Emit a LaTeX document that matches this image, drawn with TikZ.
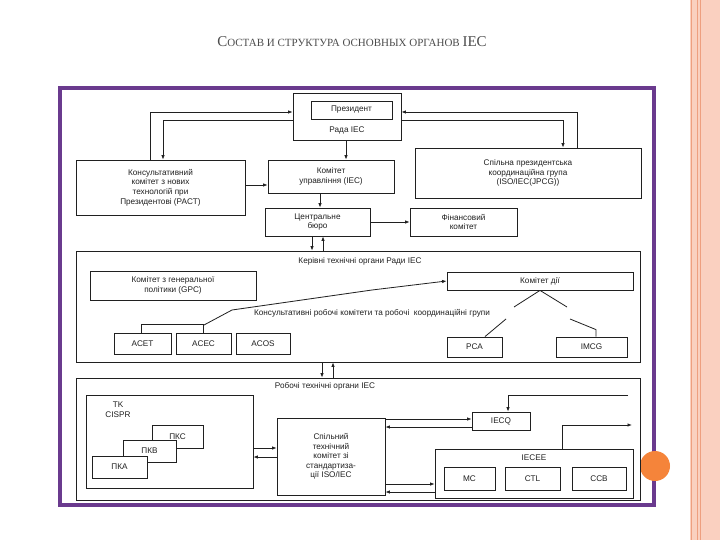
\documentclass[tikz,border=0pt]{standalone}
\usepackage{fontspec}
\setmainfont{Liberation Sans}
\newfontfamily\titlefont{Liberation Serif}
\usetikzlibrary{arrows.meta,calc}
\definecolor{frame}{HTML}{6A3A8E}
\definecolor{peach}{HTML}{FAD0C0}
\definecolor{peachline}{HTML}{EE9F80}
\definecolor{orng}{HTML}{F5843A}
\definecolor{ink}{HTML}{202020}
\tikzset{
  box/.style={draw=ink,line width=0.8pt,fill=white,inner sep=1pt,align=center,font=\fontsize{8.2}{9.6}\selectfont,text=ink},
  arr/.style={draw=ink,line width=0.8pt,-{Latex[length=4.5pt,width=3.5pt]}},
  ln/.style={draw=ink,line width=0.8pt},
  lbl/.style={font=\fontsize{8.2}{9.6}\selectfont,text=ink,inner sep=1pt}
}
\newcommand\bx[6]{\node[box,minimum width={(#4-#2)*1pt},minimum height={(#5-#3)*1pt}] (#1) at ({(#2+#4)/2},{(#3+#5)/2}) {#6};}
\begin{document}
\begin{tikzpicture}[x=1pt,y=-1pt]
\useasboundingbox (0,0) rectangle (720,540);
\fill[white] (0,0) rectangle (720,540);
% right decoration
\fill[peach] (690,0) rectangle (720,540);
\draw[peachline,line width=0.8pt] (691,0) -- (691,540) (697,0) -- (697,540) (700.5,0) -- (700.5,540);
% title
\node[text=black!70,font=\titlefont] (title) at (352,42)
 {{\fontsize{15}{15}\selectfont С}{\fontsize{11}{11}\selectfont ОСТАВ И СТРУКТУРА ОСНОВНЫХ ОРГАНОВ }{\fontsize{15}{15}\selectfont IEC}};
% frame
\draw[frame,line width=4pt] (60,88) rectangle (654,505);
\fill[orng] (655,466) circle (15);
% top boxes
\bx{rada}{293}{93}{401}{140}{}
\bx{pres}{311}{101}{392}{119}{Президент}
\node[lbl] (radat) at (347,130) {Рада IEC};
\bx{pact}{76}{160}{245}{215}{Консультативний\\комітет з нових\\технологій при\\Президентові (PACT)}
\bx{ku}{268}{160}{394}{193}{Комітет\\управління (IEC)}
\bx{jpcg}{415}{148}{641}{198}{Спільна президентська\\координаційна група\\(ISO/IEC(JPCG))}
\bx{cb}{265}{208}{370}{236}{Центральне\\бюро}
\bx{fk}{410}{208}{517}{236}{Фінансовий\\комітет}
% connectors top
\draw[arr] (pact.north -| 150,0) |- (rada.west |- 0,112);
\draw[arr] (rada.west |- 0,120) -| (pact.north -| 163,0);
\draw[arr] (jpcg.north -| 577,0) |- (rada.east |- 0,112);
\draw[arr] (rada.east |- 0,120) -| (jpcg.north -| 563,0);
\draw[arr] (rada.south -| 346,0) -- (ku.north -| 346,0);
\draw[arr] (pact.east |- 0,185) -- (ku.west |- 0,185);
\draw[arr] (ku.south -| 320,0) -- (cb.north -| 320,0);
\draw[arr] (cb.east |- 0,222) -- (fk.west |- 0,222);
% box 1
\bx{b1}{76}{251}{640}{362}{}
\node[lbl] (b1t) at (360,261) {Керівні технічні органи Ради IEC};
\draw[arr] (cb.south -| 312,0) -- (b1.north -| 312,0);
\draw[arr] (b1.north -| 323,0) -- (cb.south -| 323,0);
\bx{gpc}{90}{271}{256}{300}{Комітет з генеральної\\політики (GPC)}
\bx{kd}{447}{272}{633}{290}{Комітет дії}
\node[lbl] (kons) at (372,313) {Консультативні робочі комітети та робочі\ \ координаційні групи};
\bx{acet}{114}{333}{171}{354}{ACET}
\bx{acec}{176}{333}{231}{354}{ACEC}
\bx{acos}{236}{333}{290}{354}{ACOS}
\bx{pca}{447}{337}{502}{357}{PCA}
\bx{imcg}{556}{337}{627}{357}{IMCG}
\draw[ln] (acet.north -| 141,0) -- ++(0,-8) -| (acec.north);
\coordinate (br) at (204,325);
\draw[arr] (br) -- (232,310) -- (372,290) -- (kd.west |- 0,281);
\draw[ln] (kd.south) -- (514,307);
\draw[ln] (kd.south) -- (567,307);
\draw[ln] (pca.north -| 485,0) -- (506,319);
\draw[ln] (imcg.north -| 596,0) -- ++(0,-7) -- (570,319);
% box 2
\bx{b2}{76}{378}{640}{500}{}
\node[lbl] (b2t) at (325,386) {Робочі технічні органи IEC};
\draw[arr] (b1.south -| 322,0) -- (b2.north -| 322,0);
\draw[arr] (b2.north -| 333,0) -- (b1.south -| 333,0);
\bx{tk}{86}{395}{253}{488}{}
\node[lbl,align=center] (tkt) at (118,410) {TK\\CISPR};
\bx{pks}{152}{425}{203}{448}{ПКС}
\bx{pkv}{123}{440}{176}{462}{ПКВ}
\bx{pka}{92}{456}{147}{478}{ПКА}
\bx{stk}{277}{418}{385}{495}{Спільний\\технічний\\комітет зі\\стандартиза-\\ції ISO/IEC}
\bx{iecq}{472}{412}{530}{430}{IECQ}
\bx{iecee}{435}{449}{633}{498}{}
\node[lbl] (ieceet) at (534,458) {IECEE};
\bx{mc}{444}{467}{495}{490}{MC}
\bx{ctl}{505}{467}{560}{490}{CTL}
\bx{ccb}{572}{467}{626}{490}{CCB}
\draw[arr] (tk.east |- 0,448) -- (stk.west |- 0,448);
\draw[arr] (stk.west |- 0,457) -- (tk.east |- 0,457);
\draw[arr] (stk.east |- 0,419) -- (iecq.west |- 0,419);
\draw[arr] (iecq.west |- 0,427) -- (stk.east |- 0,427);
\draw[arr] (stk.east |- 0,484) -- (iecee.west |- 0,484);
\draw[arr] (iecee.west |- 0,492) -- (stk.east |- 0,492);
\coordinate (qin) at (628,395);
\draw[arr] (qin) -| (iecq.north -| 508,0);
\coordinate (eout) at (632,425);
\draw[arr] (iecee.north -| 562,0) |- (eout);
\end{tikzpicture}
\end{document}
